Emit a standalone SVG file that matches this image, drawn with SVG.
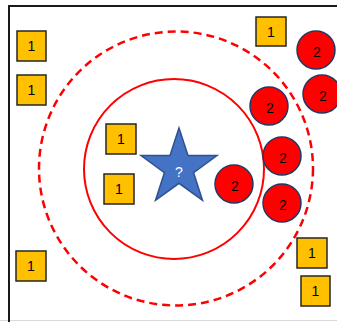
<svg xmlns="http://www.w3.org/2000/svg" width="337" height="322" viewBox="0 0 337 322">
<style>
.sq rect{fill:#FFC000;stroke:#262626;stroke-width:1.5}
.ci circle{fill:#FF0000;stroke:#203864;stroke-width:1.5}
text{font-family:"Liberation Sans",Arial,sans-serif;font-size:14px;text-anchor:middle;dominant-baseline:central;fill:#000}
</style>
<rect width="337" height="322" fill="#fff"/>
<line x1="0" y1="320.5" x2="337" y2="320.5" stroke="#d9d9d9" stroke-width="1"/>
<line x1="9" y1="6" x2="337" y2="6" stroke="#1a1a1a" stroke-width="2"/>
<line x1="9" y1="5" x2="9" y2="322" stroke="#1a1a1a" stroke-width="2"/>
<g id="rings" fill="none" stroke="#FF0000">
<circle cx="176" cy="168.5" r="137" stroke-width="2.5" stroke-dasharray="8 5"/>
<circle cx="174" cy="169" r="90" stroke-width="2"/>
</g>
<g id="connectors"></g>
<g id="sq1" class="sq"><rect x="17" y="31" width="29" height="30"/><text x="31.5" y="46">1</text></g>
<g id="sq2" class="sq"><rect x="17" y="75" width="29" height="30"/><text x="31.5" y="90">1</text></g>
<g id="sq3" class="sq"><rect x="106" y="124" width="30" height="30"/><text x="121" y="139">1</text></g>
<g id="sq4" class="sq"><rect x="104" y="174" width="30" height="30"/><text x="119" y="189">1</text></g>
<g id="sq5" class="sq"><rect x="16" y="251" width="30" height="30"/><text x="31" y="266">1</text></g>
<g id="sq6" class="sq"><rect x="256" y="17" width="30" height="29"/><text x="271" y="31.5">1</text></g>
<g id="sq7" class="sq"><rect x="297" y="238" width="30" height="30"/><text x="312" y="253">1</text></g>
<g id="sq8" class="sq"><rect x="301" y="276" width="29" height="30"/><text x="315.5" y="291">1</text></g>
<g id="c1" class="ci"><circle cx="316" cy="50" r="19"/><text x="317" y="52">2</text></g>
<g id="c2" class="ci"><circle cx="322" cy="94" r="19"/><text x="323" y="96">2</text></g>
<g id="c3" class="ci"><circle cx="269" cy="106" r="19"/><text x="270" y="108">2</text></g>
<g id="c4" class="ci"><circle cx="282" cy="156" r="19"/><text x="283" y="158">2</text></g>
<g id="c5" class="ci"><circle cx="282" cy="203" r="19"/><text x="283" y="205">2</text></g>
<g id="c6" class="ci"><circle cx="234" cy="184" r="19"/><text x="235" y="186">2</text></g>
<g id="star">
<polygon points="179,128 188,155.6 217,155.6 193.6,172.7 202.5,200.4 179,183.3 155.5,200.4 164.4,172.7 141,155.6 170,155.6" fill="#4472C4" stroke="#2F528F" stroke-width="1.5" stroke-linejoin="miter"/>
<text x="179" y="172" style="fill:#fff">?</text>
</g>
</svg>
